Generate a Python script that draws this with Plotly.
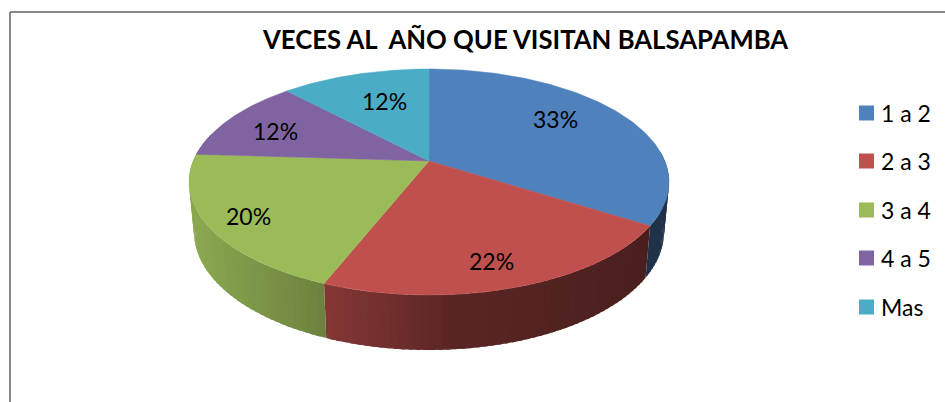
import numpy as np
import plotly.graph_objects as go

categories = ["1 a 2", "2 a 3", "3 a 4", "4 a 5", "Mas"]
values = [34, 22, 20, 12, 12]  # slice sizes
percent_labels = ["33%", "22%", "20%", "12%", "12%"]  # as printed on the chart
title = "VECES AL  AÑO QUE VISITAN BALSAPAMBA"

colors = ["#4F81BD", "#C0504D", "#9BBB59", "#8064A2", "#4BACC6"]
label_xy = [(555, 119), (491, 261), (248, 216), (275, 131), (384, 101)]
legend_y = [113, 161, 210, 258, 307]
FONT = "Lato"

# projection of the pie disc onto the page
CX, TOP_CY, TOP_RX, TOP_RY = 429, 182, 240, 113
BOT_CY, BOT_RX, BOT_RY = 232, 235, 118
K = 0.186
S = np.sqrt(1 - K ** 2)


def project(theta_deg, cy, rx, ry):
    t = np.radians(theta_deg)
    u, v = np.sin(t), np.cos(t)
    d = 1 + K * v
    return CX + rx * u * S / d, cy - ry * (v + K) / d


def shade(hex_color, f):
    r, g, b = (int(hex_color[i:i + 2], 16) for i in (1, 3, 5))
    return f"rgb({r * f:.0f},{g * f:.0f},{b * f:.0f})"


bounds = np.concatenate([[0], np.cumsum(values) / np.sum(values) * 360])
fig = go.Figure()

# side wall, drawn as thin shaded strips that overlap so no seams show
for i, col in enumerate(colors):
    a0, a1 = max(bounds[i], 85), min(bounds[i + 1], 285)
    if a1 <= a0:
        continue
    edges = np.linspace(a0, a1, max(2, int((a1 - a0) / 1.5) + 1))
    for e0, e1 in zip(edges[:-1], edges[1:]):
        e_far = min(e1 + 0.8, a1)
        xt, yt = project(np.array([e0, e_far]), TOP_CY, TOP_RX, TOP_RY)
        xb, yb = project(np.array([e_far, e0]), BOT_CY, BOT_RX, BOT_RY)
        f = np.interp((xt.mean() + xb.mean()) / 2, [200, 325, 450, 640], [0.89, 0.69, 0.47, 0.39])
        c = shade(col, f)
        fig.add_trace(go.Scatter(
            x=np.r_[xt, xb, xt[0]], y=np.r_[yt, yb, yt[0]], mode="none", fill="toself",
            fillcolor=c, hoverinfo="skip", showlegend=False))

# top face
for i, col in enumerate(colors):
    th = np.linspace(bounds[i], bounds[i + 1], 120)
    xs, ys = project(th, TOP_CY, TOP_RX, TOP_RY)
    apex_x, apex_y = CX, TOP_CY - TOP_RY * K
    fig.add_trace(go.Scatter(
        x=np.r_[apex_x, xs, apex_x], y=np.r_[apex_y, ys, apex_y], mode="lines", fill="toself",
        fillcolor=col, line=dict(color=col, width=0.5), name=categories[i], showlegend=False))

# legend swatches
fig.add_trace(go.Scatter(
    x=[866.5] * len(categories), y=legend_y, mode="markers",
    marker=dict(symbol="square", size=15, color=colors, line=dict(width=0)),
    hoverinfo="skip", showlegend=False))

ann = [dict(x=x, y=y, text=t, showarrow=False, font=dict(family=FONT, size=23, color="#000"))
       for t, (x, y) in zip(percent_labels, label_xy)]
ann += [dict(x=879, y=y, text=c, showarrow=False, xanchor="left",
             font=dict(family=FONT, size=23, color="#000"))
        for c, y in zip(categories, legend_y)]
ann.append(dict(x=525, y=39, text=f"<b>{title}</b>".replace("  ", "&nbsp; "), showarrow=False,
                font=dict(family=FONT, size=25.7, color="#000")))

fig.update_layout(
    width=945, height=402, autosize=False, margin=dict(l=0, r=0, t=0, b=0),
    paper_bgcolor="white", plot_bgcolor="white", annotations=ann,
    xaxis=dict(range=[0, 945], visible=False, fixedrange=True),
    yaxis=dict(range=[402, 0], visible=False, fixedrange=True),
    shapes=[
        dict(type="line", x0=10, x1=10, y0=12, y1=402, line=dict(color="#888888", width=2)),
        dict(type="line", x0=10, x1=945, y0=12, y1=12, line=dict(color="#888888", width=2)),
    ],
)
fig.write_html("out.html", config={"displayModeBar": False},
               post_script="document.body.style.margin='0';document.body.style.overflow='hidden';")
